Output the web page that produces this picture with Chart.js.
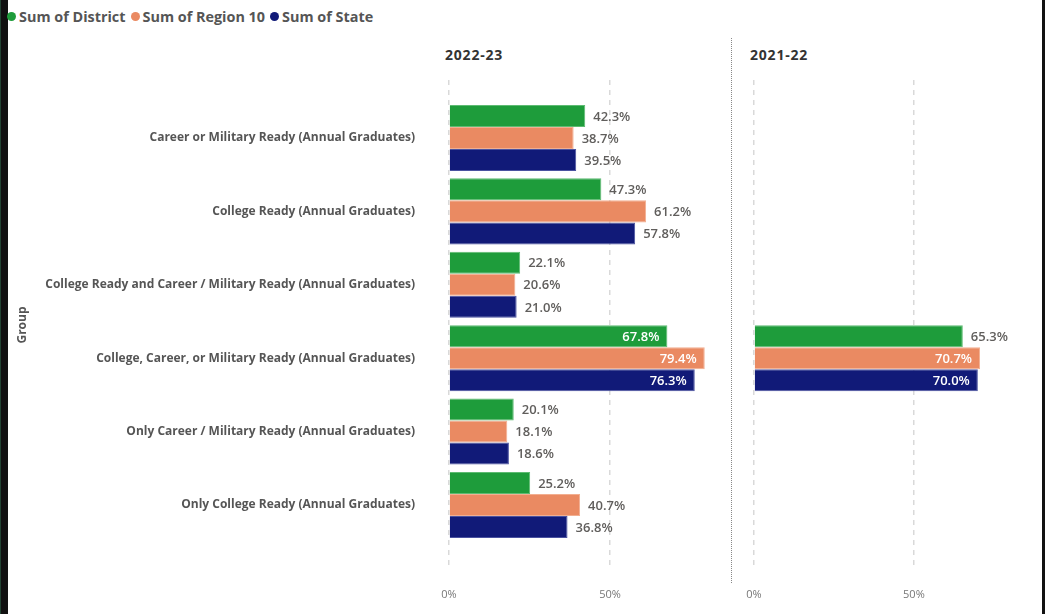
<!DOCTYPE html>
<html>
<head>
<meta charset="utf-8">
<script src="https://cdn.jsdelivr.net/npm/chart.js@4.4.1/dist/chart.umd.min.js"></script>
<style>
  html,body{margin:0;padding:0;background:#fff;}
  body{width:1045px;height:614px;position:relative;overflow:hidden;font-family:"Open Sans",sans-serif;}
  #lb{position:absolute;left:0;top:0;width:7px;height:614px;background:#111;border-left:1px solid #243;}
  #rb{position:absolute;left:1042px;top:0;width:3px;height:614px;background:#111;}
  #legend{position:absolute;left:7px;top:7px;font-size:14.4px;font-weight:700;color:#555;white-space:nowrap;display:flex;}
  #legend span.it{display:inline-flex;align-items:center;margin-right:5px;}
  #legend i{display:inline-block;width:9px;height:9px;border-radius:50%;margin-right:3px;}
  .ptitle{position:absolute;top:45px;font-size:14px;font-weight:700;color:#333;letter-spacing:0.8px;}
  #divider{position:absolute;left:731px;top:38px;height:545px;border-left:1.5px dotted #888;}
  #c1wrap{position:absolute;left:10px;top:70px;width:725px;height:544px;}
  #c2wrap{position:absolute;left:740px;top:70px;width:300px;height:544px;}
</style>
</head>
<body>
<div id="lb"></div><div id="rb"></div>
<div id="legend"></div>
<div class="ptitle" style="left:445px;">2022-23</div>
<div class="ptitle" style="left:750px;">2021-22</div>
<div id="divider"></div>
<div id="c1wrap"><canvas id="c1"></canvas></div>
<div id="c2wrap"><canvas id="c2"></canvas></div>
<script>
const categories = [
  "Career or Military Ready (Annual Graduates)",
  "College Ready (Annual Graduates)",
  "College Ready and Career / Military Ready (Annual Graduates)",
  "College, Career, or Military Ready (Annual Graduates)",
  "Only Career / Military Ready (Annual Graduates)",
  "Only College Ready (Annual Graduates)"
];
const seriesNames = ["Sum of District", "Sum of Region 10", "Sum of State"];
const seriesColors = ["#1E9C3B", "#EA8A62", "#111A78"];
const seriesBorders = ["#5DBB72", "#F2AE90", "#4A52A0"];
const panelTitles = ["2022-23", "2021-22"];

const district2223 = [42.3, 47.3, 22.1, 67.8, 20.1, 25.2];
const region2223   = [38.7, 61.2, 20.6, 79.4, 18.1, 40.7];
const state2223    = [39.5, 57.8, 21.0, 76.3, 18.6, 36.8];

const district2122 = [null, null, null, 65.3, null, null];
const region2122   = [null, null, null, 70.7, null, null];
const state2122    = [null, null, null, 70.0, null, null];

const xTicks = [0, 50];

// legend
const lg = document.getElementById('legend');
seriesNames.forEach((n,i)=>{
  const s=document.createElement('span');s.className='it';
  s.innerHTML='<i style="background:'+seriesColors[i]+'"></i>'+n;
  lg.appendChild(s);
});

const FONT = '"Open Sans", sans-serif';

const labelPlugin = {
  id:'vlabels',
  afterDatasetsDraw(chart){
    const ctx=chart.ctx;
    ctx.save();
    ctx.font='600 13px '+FONT;
    ctx.textBaseline='middle';
    chart.data.datasets.forEach((ds,di)=>{
      const meta=chart.getDatasetMeta(di);
      meta.data.forEach((bar,i)=>{
        const v=ds.data[i].x;
        if(v===null||v===undefined) return;
        const txt=v.toFixed(1)+'%';
        if(v>=66){
          ctx.fillStyle='#fff';ctx.textAlign='right';
          ctx.fillText(txt,bar.x-8,bar.y+1);
        }else{
          ctx.fillStyle='#605E5C';ctx.textAlign='left';
          ctx.fillText(txt,bar.x+8,bar.y+1);
        }
      });
    });
    ctx.restore();
  }
};

function makeChart(id, seriesList, showY, padRight){
  const datasets = seriesList.map((arr,si)=>({
    label: seriesNames[si],
    data: arr.map((v,i)=>({x:v, y:i})),
    backgroundColor: seriesColors[si],
    borderColor: seriesBorders[si],
    borderWidth: 1,
    categoryPercentage: 0.9,
    barPercentage: 1.0
  }));
  return new Chart(document.getElementById(id), {
    type:'bar',
    data:{datasets},
    options:{
      indexAxis:'y',
      responsive:true,
      maintainAspectRatio:false,
      animation:false,
      layout:{padding:{top:10,left:0,right:padRight,bottom:0}},
      plugins:{legend:{display:false},tooltip:{enabled:false}},
      scales:{
        x:{
          type:'linear', min:0, max:86,
          afterBuildTicks(s){ s.ticks = xTicks.map(v=>({value:v})); },
          afterFit(s){ s.height = 44; s.paddingLeft = 0; s.paddingRight = 0; },
          grid:{display:true, color:'#d9d9d9', lineWidth:1.5, drawTicks:false},
          border:{display:false, dash:[5,5]},
          ticks:{padding:18, color:'#777', font:{family:FONT,size:11}, callback:v=>v+'%'}
        },
        y:{
          type:'linear', reverse:true, min:-0.79, max:5.886, offset:false,
          display: true,
          afterBuildTicks(s){ s.ticks = categories.map((c,i)=>({value:i})); },
          afterFit(s){ s.width = showY ? 439 : 14; s.paddingTop = 0; s.paddingBottom = 0; },
          grid:{display:false, drawTicks:false, offset:false},
          border:{display:false},
          title:{display:showY, text:'Group', color:'#555', font:{family:FONT,size:12,weight:'700'}, padding:{top:5,bottom:4}},
          ticks:{display:showY, padding:34, color:'#555', font:{family:FONT,size:12,weight:'700'}, autoSkip:false,
                 callback:v=>categories[v]}
        }
      }
    },
    plugins:[labelPlugin]
  });
}

Chart.defaults.font.family = FONT;
const c1 = makeChart('c1', [district2223, region2223, state2223], true, 9);
const c2 = makeChart('c2', [district2122, region2122, state2122], false, 11);
</script>
</body>
</html>
